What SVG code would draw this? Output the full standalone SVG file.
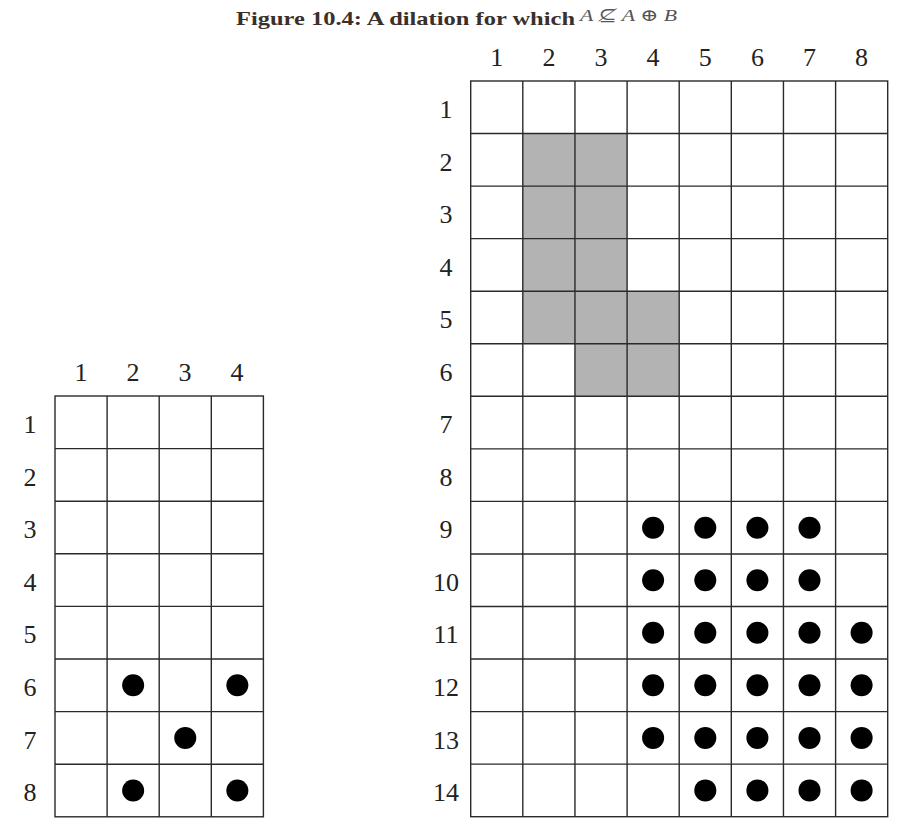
<svg xmlns="http://www.w3.org/2000/svg" width="916" height="831" viewBox="0 0 916 831">
<style>
.lbl{font-family:"Liberation Serif","DejaVu Serif",serif;font-size:26px;fill:#222;text-anchor:middle}
.ln{stroke:#2a2a2a;stroke-width:1.4;fill:none}
.g{fill:#b3b3b3}
.d{fill:#000}
</style>
<defs><circle id="dot" r="11" class="d"/></defs>
<rect width="916" height="831" fill="#fff"/>
<g id="title">
<text x="236" y="25" font-family="'Liberation Serif','DejaVu Serif',serif" font-weight="bold" font-size="19" fill="#3b2f2a" textLength="339" lengthAdjust="spacingAndGlyphs">Figure 10.4: A dilation for which</text>
<text x="580" y="21" font-family="'Liberation Serif','DejaVu Serif',serif" font-style="italic" font-size="17" fill="#555" textLength="97" lengthAdjust="spacingAndGlyphs">A ⊈ A ⊕ B</text>
</g>
<g id="left-grid">
<rect class="ln" x="55" y="396" width="208.4" height="420.8"/>
<path class="ln" d="M107.1 396V816.8M159.2 396V816.8M211.3 396V816.8M55 448.6H263.4M55 501.2H263.4M55 553.8H263.4M55 606.4H263.4M55 659H263.4M55 711.6H263.4M55 764.2H263.4"/>
<use href="#dot" x="133.15" y="685.3"/>
<use href="#dot" x="237.35" y="685.3"/>
<use href="#dot" x="185.25" y="737.9"/>
<use href="#dot" x="133.15" y="790.5"/>
<use href="#dot" x="237.35" y="790.5"/>
<g class="lbl">
<text x="81" y="381">1</text><text x="133" y="381">2</text><text x="185" y="381">3</text><text x="237" y="381">4</text>
<text x="30" y="433">1</text><text x="30" y="485.5">2</text><text x="30" y="538">3</text><text x="30" y="590.5">4</text><text x="30" y="643">5</text><text x="30" y="696">6</text><text x="30" y="748.5">7</text><text x="30" y="801">8</text>
</g>
</g>
<g id="right-grid">
<rect class="g" x="522.8" y="133.55" width="104.3" height="210.2"/>
<rect class="g" x="627.1" y="291.2" width="52.1" height="105.1"/>
<rect class="g" x="574.95" y="343.75" width="52.15" height="52.55"/>
<rect class="ln" x="470.7" y="81" width="417" height="735.7"/>
<path class="ln" d="M522.8 81V816.7M574.95 81V816.7M627.1 81V816.7M679.2 81V816.7M731.3 81V816.7M783.45 81V816.7M835.6 81V816.7
M470.7 133.55H887.7M470.7 186.1H887.7M470.7 238.65H887.7M470.7 291.2H887.7M470.7 343.75H887.7M470.7 396.3H887.7M470.7 448.85H887.7M470.7 501.4H887.7M470.7 553.95H887.7M470.7 606.5H887.7M470.7 659.05H887.7M470.7 711.6H887.7M470.7 764.15H887.7"/>
<use href="#dot" x="653.1" y="527.7"/><use href="#dot" x="705.3" y="527.7"/><use href="#dot" x="757.4" y="527.7"/><use href="#dot" x="809.5" y="527.7"/>
<use href="#dot" x="653.1" y="580.2"/><use href="#dot" x="705.3" y="580.2"/><use href="#dot" x="757.4" y="580.2"/><use href="#dot" x="809.5" y="580.2"/>
<use href="#dot" x="653.1" y="632.8"/><use href="#dot" x="705.3" y="632.8"/><use href="#dot" x="757.4" y="632.8"/><use href="#dot" x="809.5" y="632.8"/><use href="#dot" x="861.6" y="632.8"/>
<use href="#dot" x="653.1" y="685.3"/><use href="#dot" x="705.3" y="685.3"/><use href="#dot" x="757.4" y="685.3"/><use href="#dot" x="809.5" y="685.3"/><use href="#dot" x="861.6" y="685.3"/>
<use href="#dot" x="653.1" y="737.9"/><use href="#dot" x="705.3" y="737.9"/><use href="#dot" x="757.4" y="737.9"/><use href="#dot" x="809.5" y="737.9"/><use href="#dot" x="861.6" y="737.9"/>
<use href="#dot" x="705.3" y="790.4"/><use href="#dot" x="757.4" y="790.4"/><use href="#dot" x="809.5" y="790.4"/><use href="#dot" x="861.6" y="790.4"/>
<g class="lbl">
<text x="496.8" y="66">1</text><text x="548.9" y="66">2</text><text x="601" y="66">3</text><text x="653.1" y="66">4</text><text x="705.3" y="66">5</text><text x="757.4" y="66">6</text><text x="809.5" y="66">7</text><text x="861.6" y="66">8</text>
<text x="446" y="118">1</text><text x="446" y="170.5">2</text><text x="446" y="223">3</text><text x="446" y="275.5">4</text><text x="446" y="328">5</text><text x="446" y="380.5">6</text><text x="446" y="433">7</text><text x="446" y="485.5">8</text><text x="446" y="538">9</text><text x="446" y="590.5">10</text><text x="446" y="643">11</text><text x="446" y="696">12</text><text x="446" y="748.5">13</text><text x="446" y="801">14</text>
</g>
</g>
</svg>
